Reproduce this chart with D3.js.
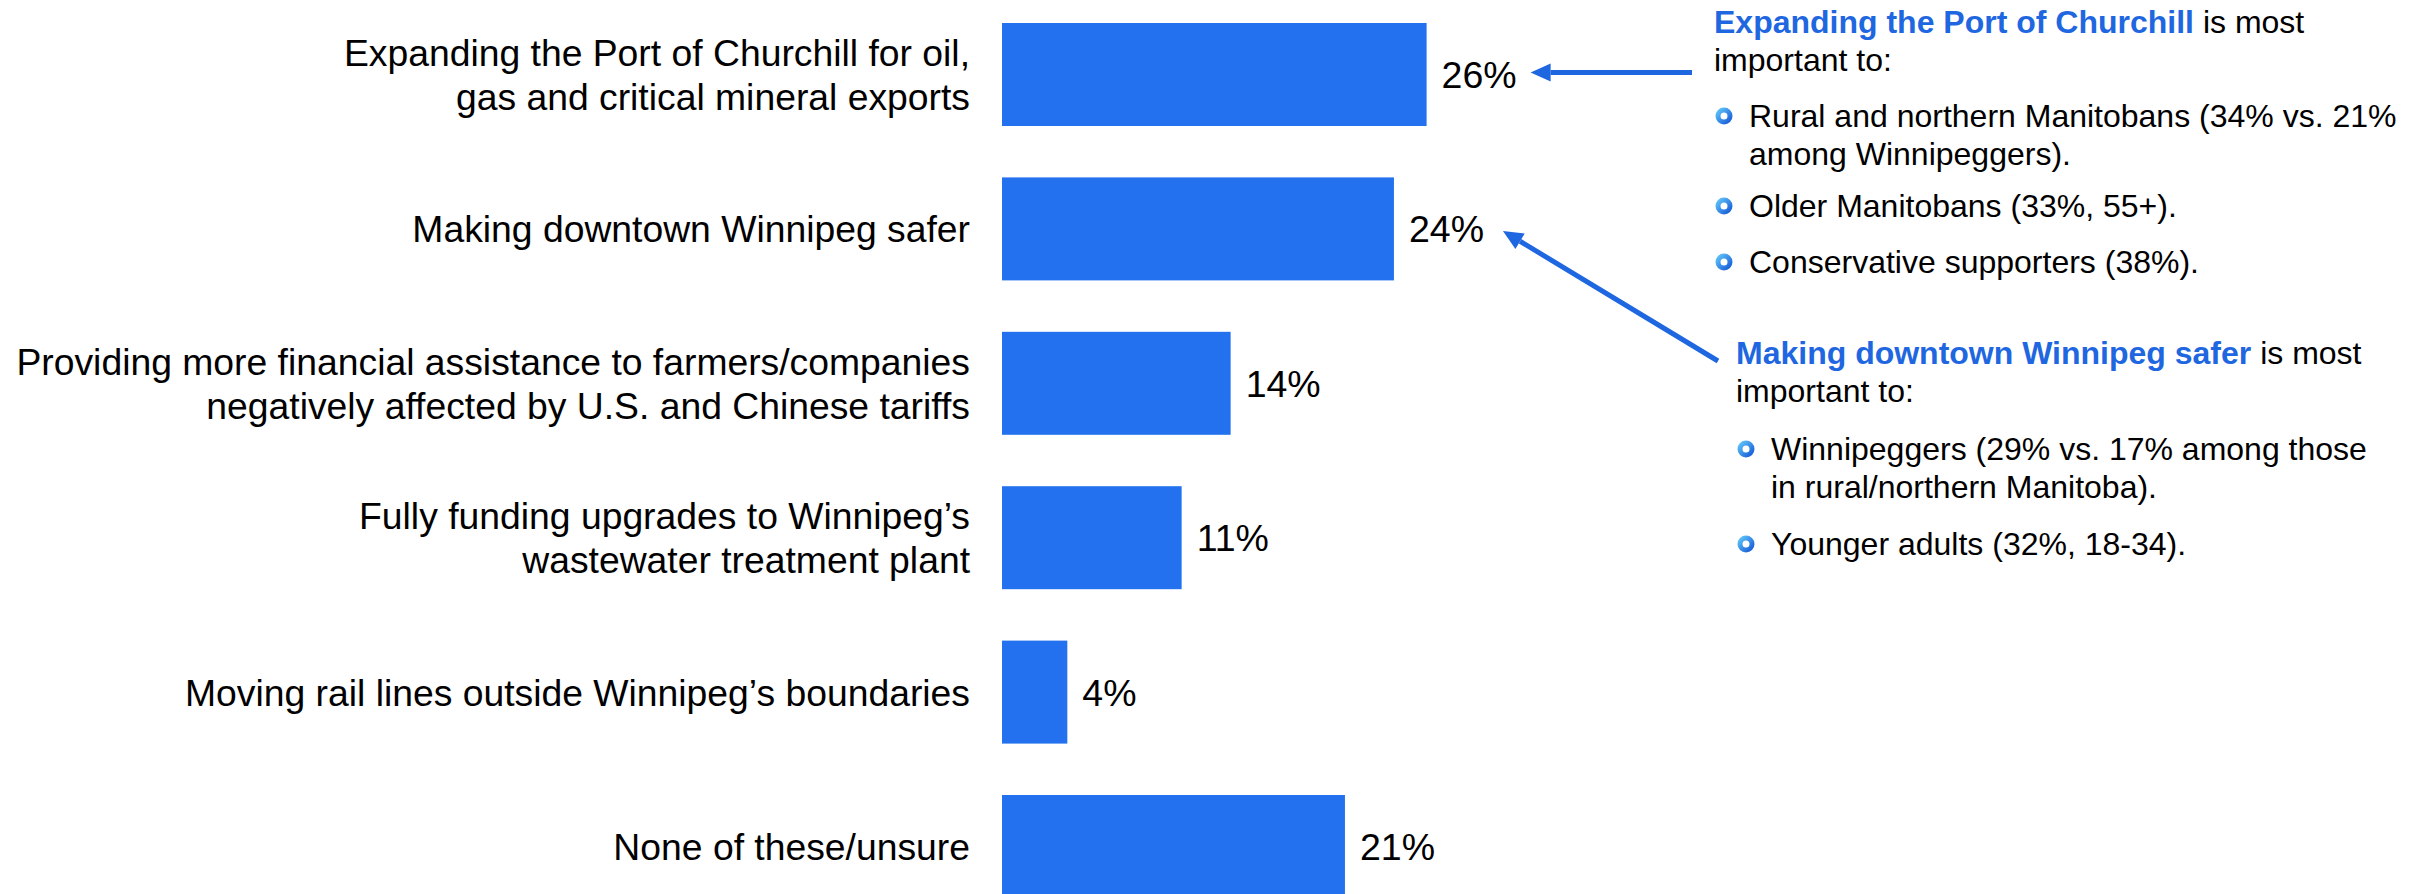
<!DOCTYPE html>
<html>
<head>
<meta charset="utf-8">
<script src="https://cdn.jsdelivr.net/npm/d3@7"></script>
<style>
  html, body { margin: 0; padding: 0; background: #ffffff; }
  svg { display: block; }
  text { font-family: "Liberation Sans", Arial, sans-serif; }
</style>
</head>
<body>
<svg id="chart" width="2418" height="894"></svg>
<script>
// ---- Data ----
const categories = [
  "Expanding the Port of Churchill for oil, gas and critical mineral exports",
  "Making downtown Winnipeg safer",
  "Providing more financial assistance to farmers/companies negatively affected by U.S. and Chinese tariffs",
  "Fully funding upgrades to Winnipeg’s wastewater treatment plant",
  "Moving rail lines outside Winnipeg’s boundaries",
  "None of these/unsure"
];
const categoryLines = [
  ["Expanding the Port of Churchill for oil,", "gas and critical mineral exports"],
  ["Making downtown Winnipeg safer"],
  ["Providing more financial assistance to farmers/companies", "negatively affected by U.S. and Chinese tariffs"],
  ["Fully funding upgrades to Winnipeg’s", "wastewater treatment plant"],
  ["Moving rail lines outside Winnipeg’s boundaries"],
  ["None of these/unsure"]
];
const values = [26, 24, 14, 11, 4, 21];

const note1Title = "Expanding the Port of Churchill";
const note1Rest = " is most";
const note1Line2 = "important to:";
const note1Bullets = [
  ["Rural and northern Manitobans (34% vs. 21%", "among Winnipeggers)."],
  ["Older Manitobans (33%, 55+)."],
  ["Conservative supporters (38%)."]
];
const note2Title = "Making downtown Winnipeg safer";
const note2Rest = " is most";
const note2Line2 = "important to:";
const note2Bullets = [
  ["Winnipeggers (29% vs. 17% among those", "in rural/northern Manitoba)."],
  ["Younger adults (32%, 18-34)."]
];

// ---- Setup ----
const svg = d3.select("#chart");
const barColor = "#2371ee";
const accent = "#1f67e0";

const defs = svg.append("defs");
const grad = defs.append("linearGradient").attr("id", "ringGrad")
  .attr("x1", "0%").attr("y1", "0%").attr("x2", "100%").attr("y2", "100%");
grad.append("stop").attr("offset", "0%").attr("stop-color", "#5cc0f7");
grad.append("stop").attr("offset", "100%").attr("stop-color", "#1a5fd8");

const x = d3.scaleLinear().domain([0, 26]).range([1002, 1426.6]);
const y = d3.scaleBand().domain(categories).range([-2.7, 923.7])
  .paddingInner(0.333).paddingOuter(0.1665);

const labelFont = 37.3;
const valueFont = 37.5;

// Bars
svg.append("g").selectAll("rect").data(categories).join("rect")
  .attr("x", x(0))
  .attr("y", d => y(d))
  .attr("width", (d, i) => x(values[i]) - x(0))
  .attr("height", y.bandwidth())
  .attr("fill", barColor);

// Value labels
svg.append("g").selectAll("text").data(categories).join("text")
  .attr("x", (d, i) => x(values[i]) + 15)
  .attr("y", d => y(d) + y.bandwidth() / 2)
  .attr("dy", "0.36em")
  .attr("font-size", valueFont)
  .attr("fill", "#000")
  .text((d, i) => values[i] + "%");

// Category labels
const lineH = 44;
const catG = svg.append("g");
categories.forEach((c, i) => {
  const lines = categoryLines[i];
  const cy = y(c) + y.bandwidth() / 2;
  const t = catG.append("text")
    .attr("text-anchor", "end")
    .attr("font-size", labelFont)
    .attr("fill", "#000");
  lines.forEach((ln, j) => {
    t.append("tspan")
      .attr("x", 970)
      .attr("y", cy + (j - (lines.length - 1) / 2) * lineH)
      .attr("dy", "0.36em")
      .text(ln);
  });
});

// Annotation helper
const noteFont = 32;
function drawNote(x0, yTitle, title, rest, line2, bullets, bulletX, textX, bulletStarts) {
  const g = svg.append("g");
  const t1 = g.append("text").attr("x", x0).attr("y", yTitle).attr("font-size", noteFont);
  t1.append("tspan").attr("font-weight", "bold").attr("fill", accent).text(title);
  t1.append("tspan").attr("fill", "#000").text(rest);
  g.append("text").attr("x", x0).attr("y", yTitle + 38).attr("font-size", noteFont)
    .attr("fill", "#000").text(line2);
  bullets.forEach((b, i) => {
    const by = bulletStarts[i];
    g.append("circle").attr("cx", bulletX).attr("cy", by - 11).attr("r", 6)
      .attr("fill", "none").attr("stroke", "url(#ringGrad)").attr("stroke-width", 5);
    b.forEach((ln, j) => {
      g.append("text").attr("x", textX).attr("y", by + j * 38)
        .attr("font-size", noteFont).attr("fill", "#000").text(ln);
    });
  });
}

drawNote(1714, 33, note1Title, note1Rest, note1Line2, note1Bullets, 1724, 1749, [127, 217, 273]);
drawNote(1736, 364, note2Title, note2Rest, note2Line2, note2Bullets, 1746, 1771, [460, 555]);

// Arrows
function arrow(x1, y1, x2, y2) {
  const ang = Math.atan2(y2 - y1, x2 - x1);
  const len = 20, half = 9;
  const bx = x2 - len * Math.cos(ang), by = y2 - len * Math.sin(ang);
  svg.append("line").attr("x1", x1).attr("y1", y1).attr("x2", bx).attr("y2", by)
    .attr("stroke", accent).attr("stroke-width", 5);
  const px = -Math.sin(ang), py = Math.cos(ang);
  svg.append("path")
    .attr("d", `M${x2},${y2}L${bx + px * half},${by + py * half}L${bx - px * half},${by - py * half}Z`)
    .attr("fill", accent);
}
const c0 = categories[0], c1 = categories[1];
arrow(1692, y(c0) + y.bandwidth() / 2 - 2, x(values[0]) + 104, y(c0) + y.bandwidth() / 2 - 2);
arrow(1718, 361, x(values[1]) + 109, y(c1) + y.bandwidth() / 2 + 2);
</script>
</body>
</html>
